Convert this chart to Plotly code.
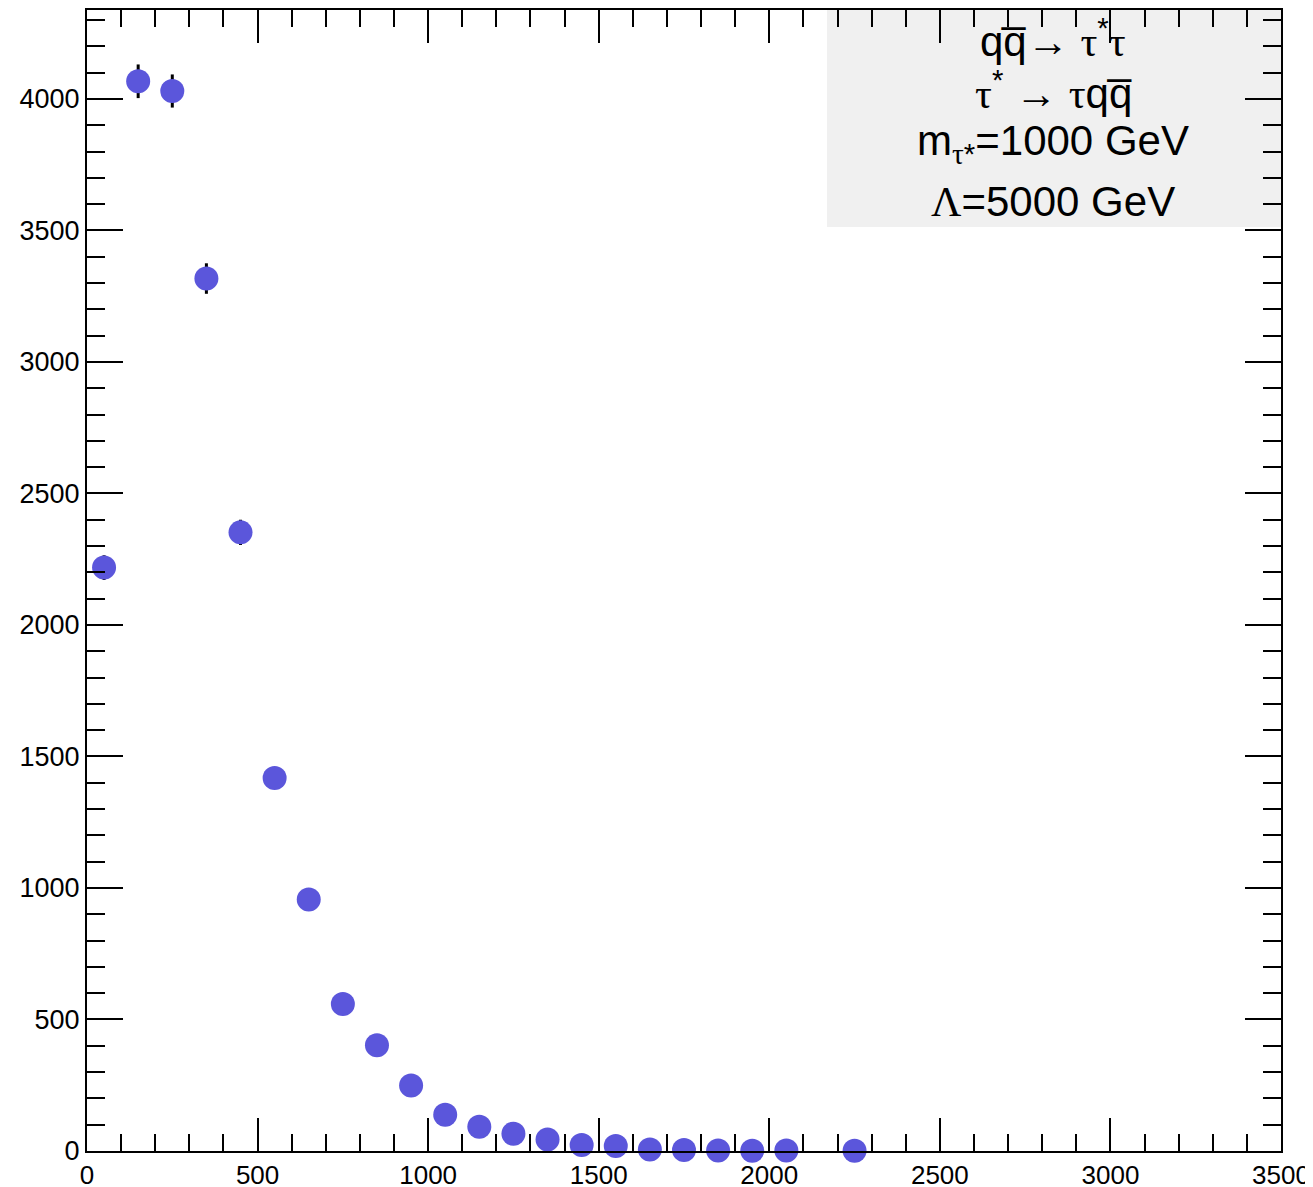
import plotly.graph_objects as go

# bin centres (GeV) and counts
x_centers = [50, 150, 250, 350, 450, 550, 650, 750, 850, 950, 1050, 1150,
             1250, 1350, 1450, 1550, 1650, 1750, 1850, 1950, 2050, 2250]
counts = [2218, 4067, 4030, 3317, 2352, 1418, 956, 559, 402, 249, 138, 92,
          66, 44, 23, 19, 6, 4, 2, 1, 2, 1]
errors = [47, 64, 63, 58, 48, 38, 31, 24, 20, 16, 12, 10,
          8, 7, 5, 4, 2.5, 2, 1.4, 1, 1.4, 1]

x_range = [0, 3500]
y_range = [0, 4338]
x_ticks = [0, 500, 1000, 1500, 2000, 2500, 3000, 3500]
y_ticks = [0, 500, 1000, 1500, 2000, 2500, 3000, 3500, 4000]

SERIF = "<span style='font-family:Liberation Serif'>{}</span>"
TAU = SERIF.format("\u03c4")
legend_lines = [
    "qq\u0305\u2192 " + TAU + "<sup>*</sup>" + TAU,
    TAU + "<sup>*</sup> \u2192 " + TAU + "qq\u0305",
    "m<sub>" + TAU + "*</sub>=1000 GeV",
    SERIF.format("\u039b") + "=5000 GeV",
]

fig = go.Figure()
fig.add_trace(go.Scatter(
    x=x_centers, y=counts,
    mode="markers",
    marker=dict(size=24, color="rgb(91,86,219)", line=dict(width=0)),
    error_y=dict(type="data", array=errors, visible=True,
                 color="black", thickness=3, width=0),
    cliponaxis=False,
    showlegend=False,
))

# page body has an 8px margin: figure starts at page (8, 8)
OFF = 8
W, H = 1313, 1187
PL, PR, PT, PB = 87, 1281, 10, 1151          # plot area in page pixels
L, T = PL - OFF, PT - OFF
R, B = W - (PR - OFF), H - (PB - OFF)
pw, ph = PR - PL, PB - PT

fig.add_shape(type="rect", xref="paper", yref="paper",
              x0=(827 - PL) / pw, x1=1.0,
              y0=(PB - 227) / ph, y1=1.0,
              fillcolor="#f0f0f0", line=dict(width=0), layer="below")

line_y = [38, 90, 143, 202]
for txt, py in zip(legend_lines, line_y):
    fig.add_annotation(
        xref="paper", yref="paper",
        x=(1053 - PL) / pw, y=(PB - py) / ph,
        text=txt, showarrow=False, xanchor="center", yanchor="middle",
        font=dict(family="Liberation Sans, Arial", size=42, color="black"),
    )

axis_common = dict(
    showgrid=False, zeroline=False, automargin=False,
    showline=True, linecolor="black", linewidth=2,
    mirror="allticks", ticks="inside", tickcolor="black", tickwidth=2,
)

fig.update_xaxes(range=x_range, tickvals=x_ticks, ticklen=33,
                 tickfont=dict(family="Liberation Sans, Arial", size=26, color="black"),
                 minor=dict(dtick=100, ticks="inside", ticklen=17,
                            tickcolor="black", tickwidth=2),
                 **axis_common)
fig.update_yaxes(range=y_range, tickvals=y_ticks, ticklen=36,
                 tickfont=dict(family="Liberation Sans, Arial", size=27, color="black"),
                 minor=dict(dtick=100, ticks="inside", ticklen=18,
                            tickcolor="black", tickwidth=2),
                 **axis_common)

fig.update_layout(
    width=W, height=H,
    margin=dict(l=L, r=R, t=T, b=B, pad=0, autoexpand=False),
    paper_bgcolor="white", plot_bgcolor="white",
)

fig.write_html("out.html")
